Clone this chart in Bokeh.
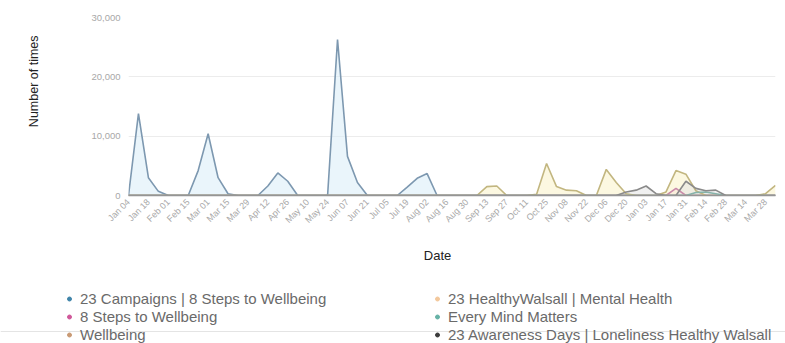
from math import pi

import pandas as pd
from bokeh.embed import file_html
from bokeh.layouts import column, row
from bokeh.models import (ColumnDataSource, FixedTicker, Label, Legend, LegendItem,
                          NumeralTickFormatter, Range1d, Span)
from bokeh.plotting import figure
from bokeh.resources import INLINE

# Weekly reporting dates (x axis)
dates = list(pd.date_range("2021-01-04", periods=66, freq="7D"))
tick_labels = [d.strftime("%b %d") for d in dates]

# Weekly counts per campaign
campaigns_8_steps = [0, 13800, 3000, 700, 0, 0, 0, 4200, 10400, 3000,
                     300, 0, 0, 0, 1600, 3800, 2400, 0, 0, 0,
                     0, 26300, 6600, 2200, 0, 0, 0, 0, 1400, 2900,
                     3700, 0, 0, 0, 0, 0, 0, 0, 0, 0,
                     0, 0, 0, 0, 0, 0, 0, 0, 0, 0,
                     0, 0, 0, 0, 0, 0, 0, 0, 0, 0,
                     0, 0, 0, 0, 0, 0]
eight_steps = [0] * 55 + [1200] + [0] * 10
wellbeing = [0] * 66
healthy_walsall = [0, 0, 0, 0, 0, 0, 0, 0, 0, 0,
                   0, 0, 0, 0, 0, 0, 0, 0, 0, 0,
                   0, 0, 0, 0, 0, 0, 0, 0, 0, 0,
                   0, 0, 0, 0, 0, 0, 1500, 1600, 0, 0,
                   0, 200, 5400, 1500, 900, 800, 0, 0, 4400, 2200,
                   300, 0, 0, 0, 600, 4200, 3600, 800, 0, 0,
                   0, 0, 0, 0, 300, 1700]
every_mind = [0] * 57 + [500, 600, 300] + [0] * 6
awareness_days = [0] * 50 + [600, 900, 1600, 300, 0, 0, 2400, 1200, 800, 900] + [0] * 6

series_names = ["23 Campaigns | 8 Steps to Wellbeing", "8 Steps to Wellbeing", "Wellbeing",
                "23 HealthyWalsall | Mental Health", "Every Mind Matters",
                "23 Awareness Days | Loneliness Healthy Walsall"]
series_values = [campaigns_8_steps, eight_steps, wellbeing,
                 healthy_walsall, every_mind, awareness_days]
dot_colors = ["#3f84a9", "#d0589a", "#c99a74", "#f3c89c", "#66b2a6", "#3b3b3b"]
line_colors = ["#7d98b0", "#c98aa9", "#c4a88e", "#c2b680", "#86b3aa", "#8a8a8a"]
fill_colors = ["#d8ecf8", "#f6dce9", "#f3e6da", "#faf3c8", "#dcf1ec", "#e4e4e4"]

FONT = "Liberation Sans"
TOP_H = 240
LEFT_W = 60
WIDTH = 785
BOTTOM_H = 343 - TOP_H


def blank_figure(w, h):
    f = figure(width=w, height=h, output_backend="svg", toolbar_location=None,
               x_range=Range1d(0, w), y_range=Range1d(0, h),
               x_axis_location=None, y_axis_location=None, min_border=0)
    f.outline_line_color = None
    f.grid.visible = False
    return f


# ---- main chart ----
p = figure(width=WIDTH - LEFT_W, height=TOP_H, output_backend="svg", toolbar_location=None,
           x_range=Range1d(0, 65), y_range=Range1d(0, 30000),
           min_border_left=128 - LEFT_W, min_border_right=10, min_border_top=17,
           min_border_bottom=TOP_H - 195)
p.outline_line_color = None

x = list(range(len(dates)))
for vals, fc in zip(series_values, fill_colors):
    src = ColumnDataSource(dict(x=x, y=vals, base=[0] * len(vals)))
    p.varea(x="x", y1="base", y2="y", source=src, fill_color=fc, fill_alpha=0.55)
for vals, lc in zip(series_values, line_colors):
    src = ColumnDataSource(dict(x=x, y=vals))
    p.line(x="x", y="y", source=src, line_color=lc, line_width=1.6)

p.xgrid.grid_line_color = None
p.ygrid.grid_line_color = "#ececec"
p.ygrid.ticker = FixedTicker(ticks=[10000, 20000, 30000])

p.yaxis.ticker = FixedTicker(ticks=[0, 10000, 20000, 30000])
p.yaxis.formatter = NumeralTickFormatter(format="0,0")
p.yaxis.axis_line_color = None
p.yaxis.major_tick_line_color = None
p.yaxis.minor_tick_line_color = None
p.yaxis.major_tick_out = 0
p.yaxis.major_label_standoff = 8
p.yaxis.major_label_text_color = "#a8a8a8"
p.yaxis.major_label_text_font = FONT
p.yaxis.major_label_text_font_size = "9.5px"

p.xaxis.ticker = FixedTicker(ticks=x[::2])
p.xaxis.major_label_overrides = {i: tick_labels[i] for i in x[::2]}
p.xaxis.major_label_orientation = pi / 4
p.xaxis.axis_line_color = "#959595"
p.xaxis.axis_line_width = 1.5
p.xaxis.major_tick_line_color = None
p.xaxis.minor_tick_line_color = None
p.xaxis.major_tick_out = 0
p.xaxis.major_label_standoff = 5
p.xaxis.major_label_text_color = "#a8a8a8"
p.xaxis.major_label_text_font = FONT
p.xaxis.major_label_text_font_size = "9px"

# ---- y-axis title strip ----
ytitle = blank_figure(LEFT_W, TOP_H)
ytitle.add_layout(Label(x=33, y=TOP_H - 86, text="Number of times", angle=pi / 2,
                        text_align="center", text_baseline="middle",
                        text_font=FONT, text_font_size="12.5px", text_color="#222222"))

# ---- x-axis title and legend strip ----
bottom = blank_figure(WIDTH, BOTTOM_H)
bottom.add_layout(Label(x=437, y=BOTTOM_H - (255 - TOP_H), text="Date",
                        text_align="center", text_baseline="middle",
                        text_font=FONT, text_font_size="13px", text_color="#222222"))
bottom.add_layout(Span(location=BOTTOM_H - (331 - TOP_H), dimension="width",
                       line_color="#e4e4e4", line_width=1))

# legend swatches: one undrawn (NaN) point per series, used only for the key
nan = float("nan")
markers = []
for name, c in zip(series_names, dot_colors):
    r = bottom.scatter(x=[nan], y=[nan], size=8, marker="circle", fill_color=c, line_color=c)
    markers.append(LegendItem(label=name, renderers=[r]))


def make_legend(items, xloc):
    return Legend(items=items, location=(xloc, 0), orientation="vertical",
                  glyph_width=10, glyph_height=15, label_height=15, spacing=1,
                  label_standoff=6, padding=0, margin=0,
                  border_line_color=None, background_fill_alpha=0,
                  label_text_font=FONT, label_text_font_size="15px",
                  label_text_color="#6a6a6a")


bottom.add_layout(make_legend(markers[:3], 64))
bottom.add_layout(make_legend(markers[3:], 432))

layout = column(row(ytitle, p, spacing=0), bottom, spacing=0)
open("out.html", "w").write(file_html(layout, INLINE))
